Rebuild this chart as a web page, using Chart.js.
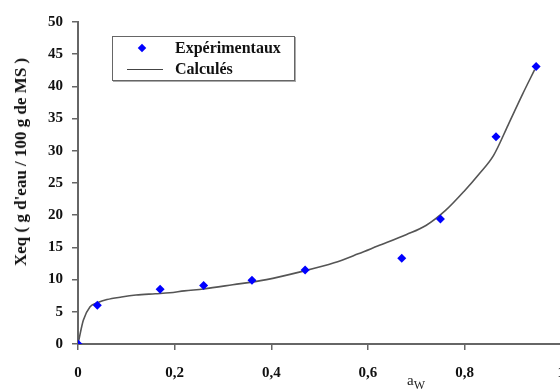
<!DOCTYPE html>
<html>
<head>
<meta charset="utf-8">
<script src="https://cdn.jsdelivr.net/npm/chart.js@4"></script>
<style>
  html, body { margin: 0; padding: 0; background: #fff; overflow: hidden; }
  #wrap { position: relative; width: 579px; height: 392px; }
  #legend {
    position: absolute; left: 112px; top: 36px; width: 181px; height: 43px;
    border: 1px solid #666; box-shadow: 1px 1px 0 #aaa; background: #fff;
    font: bold 16px "Liberation Serif", "DejaVu Serif", serif; color: #111;
  }
  #legend .row { position: absolute; left: 62px; }
  #legend .dia {
    position: absolute; left: 26px; top: 8px; width: 6px; height: 6px;
    background: #0000ff; transform: rotate(45deg);
  }
  #legend .ln { position: absolute; left: 14px; top: 32px; width: 36px; height: 0; border-top: 1px solid #444; }
  #xtitle {
    position: absolute; left: 407px; top: 372px;
    font: 15px "Liberation Serif", "DejaVu Serif", serif; color: #222;
  }
  #xtitle sub { font-size: 12px; vertical-align: -4px; }
  #ytitle {
    position: absolute; left: 21px; top: 162px; white-space: nowrap;
    transform: translate(-50%, -50%) rotate(-90deg);
    font: bold 17px "Liberation Serif", "DejaVu Serif", serif; color: #111;
  }
</style>
</head>
<body>
<div id="wrap">
  <canvas id="c" width="579" height="392"></canvas>
  <div id="legend">
    <span class="dia"></span><span class="row" style="top:2px">Expérimentaux</span>
    <span class="ln"></span><span class="row" style="top:23px">Calculés</span>
  </div>
  <div id="xtitle">a<sub>W</sub></div>
  <div id="ytitle"></div>
</div>
<script>
// experimental points
const expAw = [0, 0.04, 0.17, 0.26, 0.36, 0.47, 0.67, 0.75, 0.865, 0.948];
const expXeq = [0, 6.0, 8.5, 9.1, 9.9, 11.5, 13.3, 19.4, 32.2, 43.1];

// calculated curve
const calcAw = [0, 0.011, 0.025, 0.04, 0.06, 0.09, 0.12, 0.16, 0.19, 0.22, 0.26, 0.32, 0.39,
  0.46, 0.53, 0.58, 0.62, 0.68, 0.72, 0.76, 0.80, 0.83, 0.86, 0.89, 0.92, 0.945];
const calcXeq = [0, 3.7, 5.8, 6.4, 6.9, 7.3, 7.6, 7.8, 7.95, 8.25, 8.55, 9.2, 10.0,
  11.2, 12.6, 14.0, 15.2, 17.0, 18.4, 20.7, 23.8, 26.4, 29.3, 34.0, 38.8, 42.6];

const xTicks = [0, 0.2, 0.4, 0.6, 0.8, 1];
const yTitle = "Xeq ( g d'eau / 100 g de MS )";

document.getElementById('ytitle').textContent = yTitle;

const tickFont = {family: '"Liberation Serif", "DejaVu Serif", serif', size: 15, weight: 'bold'};

const toXY = (xs, ys) => xs.map((x, i) => ({x, y: ys[i]}));

new Chart(document.getElementById('c'), {
  type: 'scatter',
  data: {datasets: [
    {
      label: 'Calculés',
      data: toXY(calcAw, calcXeq),
      showLine: true,
      borderColor: '#555',
      borderWidth: 1.6,
      pointRadius: 0,
      cubicInterpolationMode: 'monotone',
      order: 2,
    },
    {
      label: 'Expérimentaux',
      data: toXY(expAw, expXeq),
      pointStyle: 'rectRot',
      pointRadius: 4.5,
      backgroundColor: '#0000ff',
      borderColor: '#0000ff',
      borderWidth: 0,
      order: 1,
    },
  ]},
  options: {
    responsive: false,
    animation: false,
    layout: {padding: {top: 22, right: 5, left: 0, bottom: 0}},
    plugins: {legend: {display: false}, tooltip: {enabled: false}},
    scales: {
      x: {
        type: 'linear', min: 0, max: 1,
        afterBuildTicks: s => { s.ticks = xTicks.map(v => ({value: v})); },
        afterFit: s => { s.height = 48; },
        ticks: {
          font: tickFont, color: '#111', padding: 14, maxRotation: 0,
          callback: v => String(v).replace('.', ','),
        },
        grid: {drawOnChartArea: false, tickLength: 6, color: '#666', lineWidth: 1.5},
        border: {color: '#666', width: 2},
      },
      y: {
        min: 0, max: 50,
        ticks: {stepSize: 5, font: tickFont, color: '#111', padding: 9},
        afterFit: s => { s.width = 78; },
        grid: {drawOnChartArea: false, tickLength: 6, color: '#666', lineWidth: 1.5},
        border: {color: '#666', width: 2},
      },
    },
  },
});
</script>
</body>
</html>
